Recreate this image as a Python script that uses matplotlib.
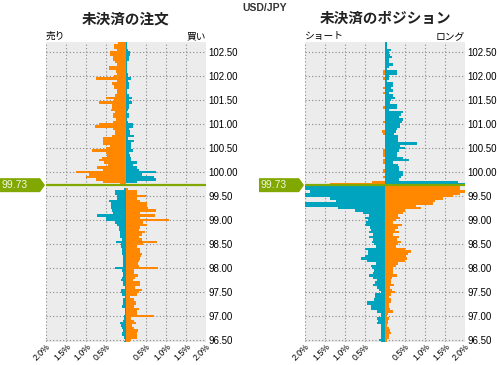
import matplotlib
matplotlib.use('Agg')
import matplotlib.pyplot as plt
import matplotlib.transforms as mtransforms
from matplotlib.patches import Polygon
import numpy as np

# current rate and price bins (0.05 yen step, top to bottom)
rate = 99.73
price_top, price_step, n_bins = 102.70, 0.05, 126
prices = np.round(price_top - price_step * np.arange(n_bins), 2)

# open orders, % per bin (left = sell, right = buy)
order_sell = [0.20, 0.30, 0.30, 0.23, 0.40, 0.40, 0.32, 0.32, 0.27, 0.22,
              0.42, 0.42, 0.25, 0.22, 0.30, 0.75, 0.22, 0.35, 0.30, 0.30,
              0.22, 0.22, 0.28, 0.50, 0.30, 0.68, 0.35, 0.35, 0.38, 0.27,
              0.32, 0.32, 0.25, 0.32, 0.68, 0.78, 0.32, 0.27, 0.27, 0.35,
              0.58, 0.58, 0.58, 0.40, 0.50, 0.85, 0.50, 0.48, 0.60, 0.68,
              0.55, 0.44, 0.72, 0.58, 1.25, 0.92, 1.00, 0.75, 0.58, 0.15,
              0.00, 0.05, 0.27, 0.27, 0.23, 0.22, 0.42, 0.38, 0.38, 0.38,
              0.36, 0.33, 0.72, 0.50, 0.50, 0.27, 0.23, 0.17, 0.17, 0.15,
              0.15, 0.15, 0.11, 0.25, 0.13, 0.12, 0.10, 0.10, 0.10, 0.08,
              0.08, 0.07, 0.07, 0.08, 0.27, 0.10, 0.08, 0.08, 0.10, 0.12,
              0.07, 0.07, 0.03, 0.12, 0.12, 0.10, 0.02, 0.07, 0.07, 0.07,
              0.10, 0.02, 0.02, 0.02, 0.05, 0.05, 0.08, 0.15, 0.12, 0.10,
              0.07, 0.10, 0.10, 0.05, 0.02, 0.05]
order_buy = [0.03, 0.03, 0.03, 0.06, 0.10, 0.10, 0.07, 0.07, 0.03, 0.03,
             0.03, 0.03, 0.03, 0.05, 0.05, 0.12, 0.05, 0.07, 0.07, 0.07,
             0.03, 0.03, 0.07, 0.14, 0.07, 0.15, 0.07, 0.07, 0.05, 0.03,
             0.07, 0.07, 0.03, 0.05, 0.18, 0.18, 0.07, 0.10, 0.10, 0.20,
             0.06, 0.20, 0.12, 0.12, 0.12, 0.17, 0.08, 0.10, 0.12, 0.13,
             0.27, 0.18, 0.27, 0.32, 0.75, 0.40, 0.70, 0.75, 0.27, 0.00,
             0.00, 0.05, 0.27, 0.27, 0.50, 0.27, 0.35, 0.53, 0.53, 0.55,
             0.75, 0.35, 0.72, 0.35, 1.07, 0.43, 0.52, 0.35, 0.33, 0.48,
             0.40, 0.33, 0.40, 0.77, 0.43, 0.27, 0.35, 0.35, 0.40, 0.37,
             0.35, 0.33, 0.30, 0.33, 0.80, 0.20, 0.20, 0.30, 0.22, 0.17,
             0.35, 0.35, 0.23, 0.40, 0.33, 0.27, 0.10, 0.20, 0.25, 0.25,
             0.20, 0.32, 0.27, 0.27, 0.70, 0.12, 0.20, 0.25, 0.15, 0.20,
             0.30, 0.27, 0.27, 0.27, 0.12, 0.10]

# open positions, % per bin (left = short, right = long)
pos_short = [0.00, 0.00, 0.00, 0.00, 0.00, 0.00, 0.00, 0.00, 0.00, 0.00,
             0.00, 0.00, 0.05, 0.05, 0.00, 0.05, 0.00, 0.00, 0.00, 0.04,
             0.00, 0.04, 0.00, 0.00, 0.00, 0.00, 0.00, 0.04, 0.00, 0.00,
             0.00, 0.00, 0.00, 0.04, 0.00, 0.00, 0.00, 0.07, 0.04, 0.00,
             0.00, 0.00, 0.00, 0.00, 0.00, 0.04, 0.04, 0.04, 0.00, 0.04,
             0.04, 0.00, 0.00, 0.04, 0.04, 0.00, 0.04, 0.00, 0.33, 1.38,
             2.20, 2.20, 1.87, 2.20, 2.20, 1.37, 1.22, 2.20, 2.20, 1.17,
             0.74, 0.54, 0.39, 0.51, 0.43, 0.47, 0.49, 0.37, 0.36, 0.39,
             0.31, 0.39, 0.29, 0.33, 0.28, 0.23, 0.51, 0.43, 0.43, 0.51,
             0.59, 0.45, 0.23, 0.34, 0.33, 0.28, 0.31, 0.39, 0.31, 0.21,
             0.25, 0.31, 0.21, 0.14, 0.11, 0.26, 0.26, 0.28, 0.44, 0.44,
             0.34, 0.34, 0.21, 0.11, 0.11, 0.19, 0.18, 0.21, 0.11, 0.11,
             0.11, 0.11, 0.11, 0.11, 0.16, 0.10]
pos_long = [0.04, 0.04, 0.04, 0.16, 0.11, 0.12, 0.18, 0.11, 0.11, 0.21,
            0.09, 0.06, 0.31, 0.31, 0.11, 0.11, 0.04, 0.21, 0.21, 0.16,
            0.21, 0.11, 0.19, 0.26, 0.16, 0.13, 0.31, 0.31, 0.09, 0.46,
            0.39, 0.36, 0.44, 0.43, 0.38, 0.38, 0.31, 0.28, 0.23, 0.33,
            0.33, 0.33, 0.81, 0.38, 0.50, 0.34, 0.30, 0.31, 0.44, 0.60,
            0.21, 0.33, 0.34, 0.36, 0.46, 0.44, 0.40, 0.34, 1.83, 2.20,
            1.87, 1.87, 2.20, 1.87, 1.70, 1.46, 1.26, 1.19, 0.78, 0.91,
            0.49, 0.46, 0.33, 0.38, 0.28, 0.21, 0.43, 0.33, 0.26, 0.36,
            0.21, 0.36, 0.29, 0.39, 0.33, 0.28, 0.51, 0.66, 0.58, 0.53,
            0.54, 0.50, 0.33, 0.28, 0.19, 0.21, 0.19, 0.31, 0.18, 0.16,
            0.16, 0.23, 0.13, 0.18, 0.24, 0.16, 0.11, 0.16, 0.16, 0.09,
            0.09, 0.13, 0.21, 0.08, 0.04, 0.09, 0.08, 0.08, 0.04, 0.09,
            0.12, 0.16, 0.11, 0.09, 0.04, 0.04]

for arr in (order_sell, order_buy, pos_short, pos_long):
    assert len(arr) == n_bins

x_ticks = [-2.0, -1.5, -1.0, -0.5, 0.5, 1.0, 1.5, 2.0]
y_ticks = [96.5, 97.0, 97.5, 98.0, 98.5, 99.0, 99.5, 100.0, 100.5, 101.0, 101.5, 102.0, 102.5]

ORANGE = '#ff8800'
TEAL = '#00a4bf'
GREEN = '#80a800'
JP = ['Noto Sans CJK JP', 'DejaVu Sans']
plt.rcParams['font.family'] = ['Liberation Sans', 'Noto Sans CJK JP', 'DejaVu Sans']

fig = plt.figure(figsize=(4.97, 3.65), dpi=100)
W, H = 497, 365


def panel(x0, left_vals, right_vals, title, left_lbl, right_lbl):
    ax = fig.add_axes([x0 / W, (H - 342) / H, 160 / W, 300 / H])
    above = prices > rate
    left_col = np.where(above, ORANGE, TEAL)
    right_col = np.where(above, TEAL, ORANGE)
    ax.barh(prices, -np.array(left_vals), height=price_step, color=left_col, linewidth=0)
    ax.barh(prices, right_vals, height=price_step, color=right_col, linewidth=0)
    ax.axhline(rate, color=GREEN, lw=1.6, zorder=5)

    ax.set_facecolor('#ececec')
    for s in ax.spines.values():
        s.set_visible(False)
    ax.set_xlim(-2, 2)
    ax.set_ylim(96.46, 102.715)
    ax.set_axisbelow(True)
    ax.set_xticks(x_ticks)
    ax.set_xticklabels([f'{abs(v):.1f}%' for v in x_ticks], rotation=45, ha='right',
                       rotation_mode='anchor', fontsize=6.3)
    ax.set_yticks(y_ticks)
    ax.set_yticklabels([f'{v:.2f}' for v in y_ticks], fontsize=7)
    ax.yaxis.tick_right()
    ax.tick_params(length=0, pad=2)
    ax.tick_params(axis='x', pad=0)
    ax.grid(True, color='#8a8a8a', linestyle=(0, (1, 2)), linewidth=0.8)

    fig.text((x0 + 80) / W, 1 - 18 / H, title, ha='center', va='center',
             fontsize=10.5, fontweight='bold', family=JP, color='#222222')
    fig.text(x0 / W, 1 - 36 / H, left_lbl, ha='left', va='center', fontsize=7, family=JP)
    fig.text((x0 + 160) / W, 1 - 36 / H, right_lbl, ha='right', va='center', fontsize=7, family=JP)

    # current-rate tag left of the plot (inches offset from the axes edge)
    tr = fig.dpi_scale_trans + mtransforms.ScaledTranslation(0, rate, ax.get_yaxis_transform())
    tag = Polygon([(-0.46, 0.07), (-0.06, 0.07), (-0.01, 0.0), (-0.06, -0.07), (-0.46, -0.07)],
                  closed=True, facecolor=GREEN, edgecolor='none', transform=tr, clip_on=False)
    fig.patches.append(tag)
    tag.set_figure(fig)
    fig.text(-0.445, 0.0, f'{rate:.2f}', transform=tr, ha='left', va='center',
             fontsize=7.5, color='#f4f8e8')
    return ax


panel(46, order_sell, order_buy, '未決済の注文', '売り', '買い')
panel(305, pos_short, pos_long, '未決済のポジション', 'ショート', 'ロング')

fig.text(265 / W, 1 - 8 / H, 'USD/JPY', ha='center', va='center', fontsize=7.5,
         fontweight='bold', color='#333333')

fig.savefig('out.png', dpi=100)
